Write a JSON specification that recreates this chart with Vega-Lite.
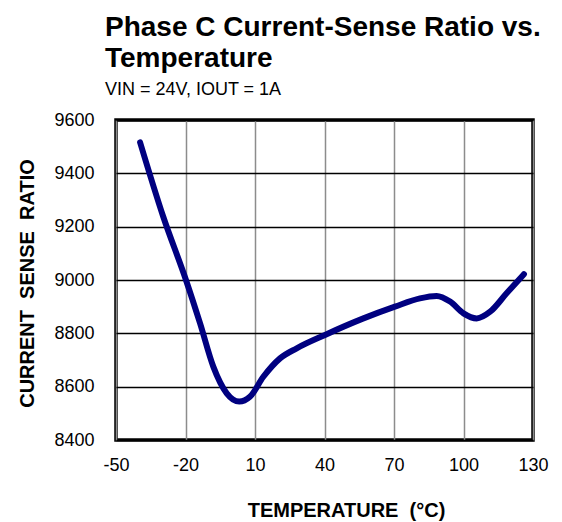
{
  "$schema": "https://vega.github.io/schema/vega-lite/v6.json",
  "autosize": {"type": "none"},
  "width": 417,
  "height": 320,
  "padding": {"left": 116, "top": 120, "right": 29, "bottom": 82},
  "background": "white",
  "title": {
    "text": ["Phase C Current-Sense Ratio vs.", "Temperature"],
    "subtitle": "VIN = 24V, IOUT = 1A",
    "anchor": "start",
    "frame": "group",
    "dx": -11,
    "font": "Liberation Sans",
    "fontSize": 28,
    "fontWeight": "bold",
    "lineHeight": 31,
    "color": "black",
    "subtitleFont": "Liberation Sans",
    "subtitleFontSize": 18,
    "subtitleColor": "black",
    "subtitlePadding": 8,
    "offset": 12
  },
  "data": {
    "values": [
      {"t": -39.6, "v": 9516},
      {"t": -29.6, "v": 9237},
      {"t": -19.8, "v": 9000},
      {"t": -13.7, "v": 8837},
      {"t": -8.0, "v": 8675},
      {"t": -2.2, "v": 8575},
      {"t": 3.2, "v": 8544},
      {"t": 7.8, "v": 8562},
      {"t": 13.6, "v": 8637},
      {"t": 20.8, "v": 8706},
      {"t": 28.0, "v": 8744},
      {"t": 40.2, "v": 8794},
      {"t": 56.8, "v": 8856},
      {"t": 70.4, "v": 8900},
      {"t": 81.2, "v": 8931},
      {"t": 88.4, "v": 8940},
      {"t": 94.2, "v": 8919},
      {"t": 100.0, "v": 8875},
      {"t": 105.7, "v": 8856},
      {"t": 111.5, "v": 8881},
      {"t": 118.6, "v": 8950},
      {"t": 126.1, "v": 9022}
    ]
  },
  "mark": {"type": "line", "color": "#000080", "strokeWidth": 6, "strokeCap": "round", "strokeJoin": "round", "interpolate": "monotone", "clip": true},
  "encoding": {
    "x": {
      "field": "t",
      "type": "quantitative",
      "scale": {"domain": [-50, 130], "nice": false, "zero": false},
      "axis": {
        "values": [-50, -20, 10, 40, 70, 100, 130],
        "labelExpr": "'' + datum.value",
        "title": "TEMPERATURE\u00a0\u00a0(°C)",
        "titleX": 230,
        "titleY": 76,
        "titleBaseline": "alphabetic",
        "titleFontSize": 20,
        "labelPadding": 16
      }
    },
    "y": {
      "field": "v",
      "type": "quantitative",
      "scale": {"domain": [8400, 9600], "nice": false, "zero": false},
      "axis": {
        "values": [8400, 8600, 8800, 9000, 9200, 9400, 9600],
        "labelExpr": "'' + datum.value",
        "title": "CURRENT\u00a0\u00a0SENSE\u00a0\u00a0RATIO",
        "titleX": -83,
        "titleY": 163,
        "titleBaseline": "alphabetic",
        "titleAlign": "center",
        "titleFontSize": 20,
        "labelPadding": 22,
        "gridColor": "black",
        "gridWidth": 1.5
      }
    }
  },
  "config": {
    "view": {"stroke": "black", "strokeWidth": 3.5},
    "axis": {
      "domain": false,
      "ticks": false,
      "tickSize": 0,
      "grid": true,
      "gridColor": "#8c8c8c",
      "gridWidth": 1.5,
      "gridOpacity": 1,
      "labelFont": "Liberation Sans",
      "labelFontSize": 18,
      "labelColor": "black",
      "labelOverlap": false,
      "labelFlush": false,
      "titleFont": "Liberation Sans",
      "titleFontSize": 19,
      "titleFontWeight": "bold",
      "titleColor": "black"
    }
  }
}
